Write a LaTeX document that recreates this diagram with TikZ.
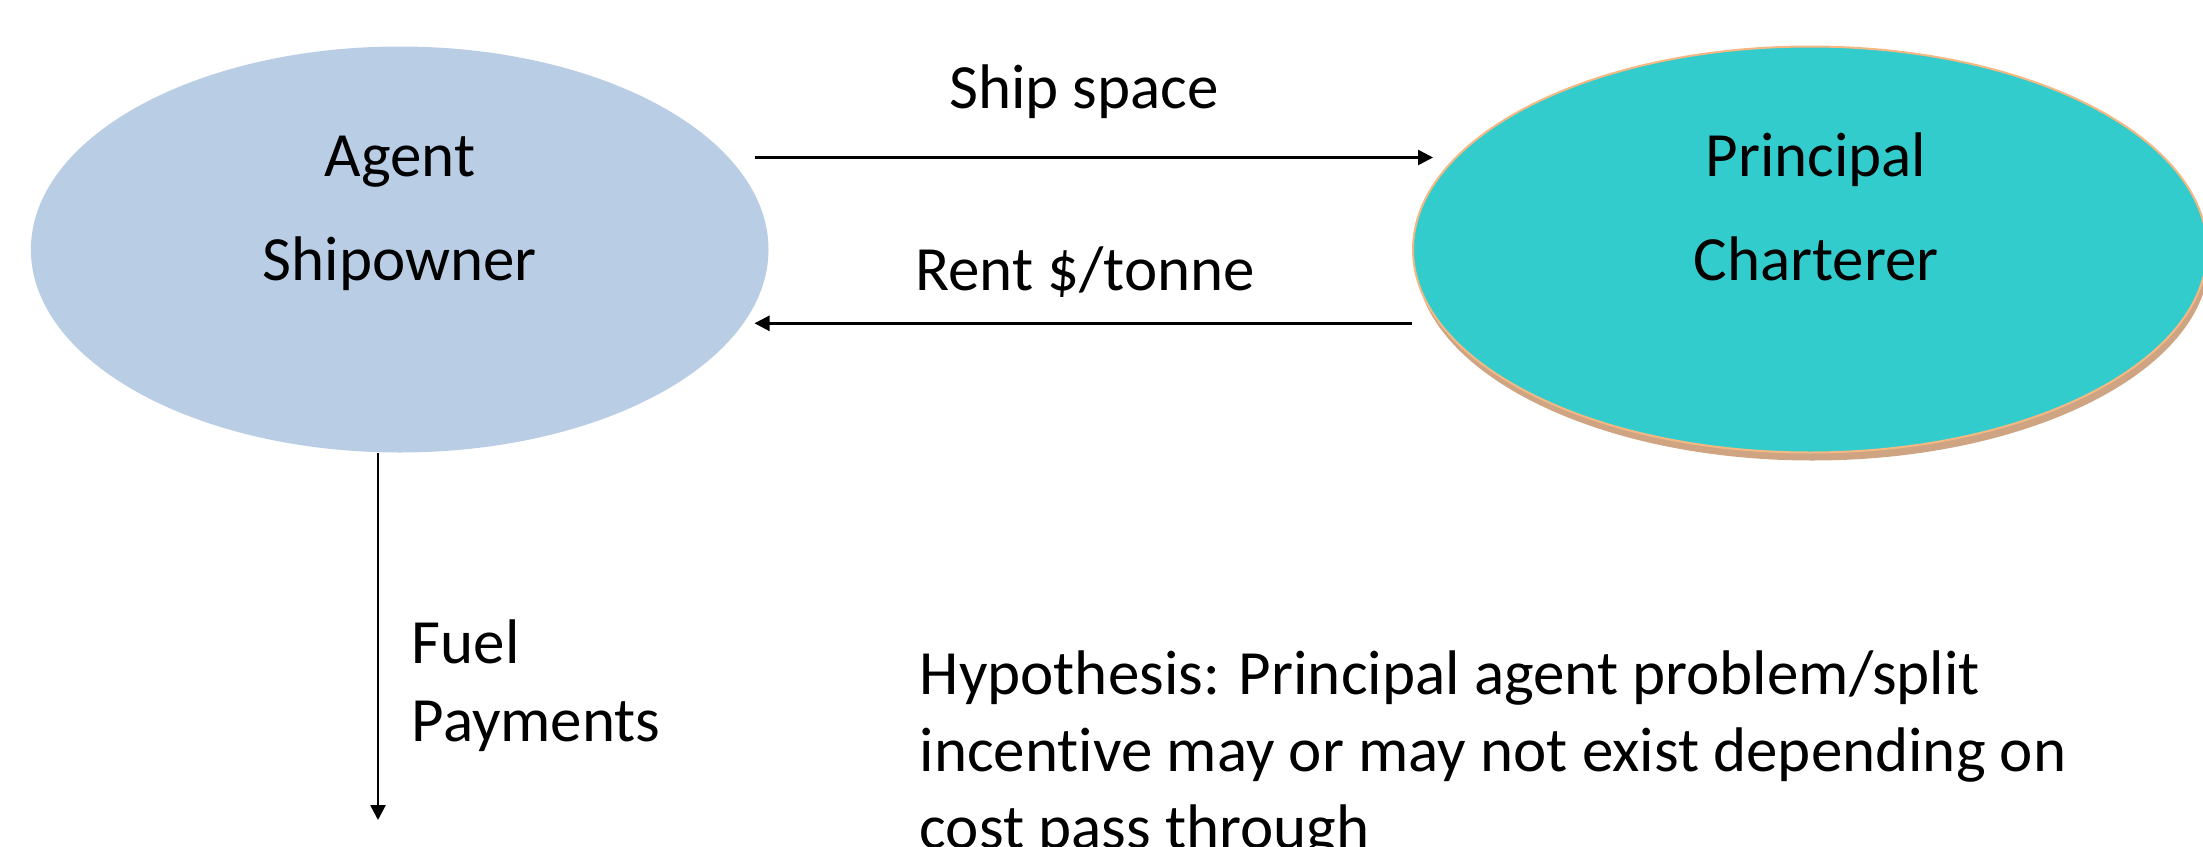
\documentclass[tikz,border=0pt]{standalone}
\usepackage{fontspec}
\setmainfont{Carlito}[Ligatures=NoCommon]
\usetikzlibrary{arrows.meta,shapes.geometric,shadows}

\definecolor{agentfill}{HTML}{B9CDE5}
\definecolor{princfill}{HTML}{33CCCC}
\definecolor{princline}{HTML}{F5B882}
\definecolor{princshadow}{HTML}{CFA482}

\pgfdeclarelayer{bg}
\pgfsetlayers{bg,main}

\begin{document}
\begin{tikzpicture}[x=0.25pt, y=-0.25pt,
  lbl/.style={font=\fontsize{15.75pt}{19.25pt}\selectfont, inner sep=0pt, anchor=base},
  lblw/.style={lbl, anchor=base west},
  flow/.style={line width=0.65pt, -{Triangle[length=3.75pt, width=3.75pt]}},
  oval/.style={ellipse, inner sep=0pt, minimum height=101.5pt}]
\useasboundingbox (0,0) rectangle (2203,846);
\clip (0,0) rectangle (2203,846);

% the two parties
\node[oval, fill=agentfill, minimum width=184.4pt] (agent) at (399.7,249.5) {};
\node[oval, fill=princfill, draw=princline, line width=0.5pt, minimum width=198.5pt,
      drop shadow={fill=princshadow, opacity=1, shadow xshift=0.6pt, shadow yshift=-2pt}]
      (princ) at (1810,249.5) {};

% names inside the ovals
\node[lbl] (agentA) at (400,176.7) {Agent};
\node[lbl] (agentB) at (400,280) {Shipowner};
\node[lbl] (princA) at (1816,176.7) {Principal};
\node[lbl] (princB) at (1816,280) {Charterer};

% flow labels
\node[lbl] (shiplbl) at (1084,108.3) {Ship space};
\node[lbl] (rentlbl) at (1085,290) {Rent \$/tonne};
\node[lblw] (fuelA) at (411,663) {Fuel};
\node[lblw] (fuelB) at (411,741.7) {Payments};

% hypothesis text
\node[lblw] (hypA) at (919,694) {Hypothesis: Principal agent problem/split};
\node[lblw] (hypB) at (919,771) {incentive may or may not exist depending on};
\node[lblw] (hypC) at (919,848) {cost pass through};

% connector end points
\coordinate (shipFrom) at (754.5,157.5);
\coordinate (shipTo)   at (1433,157.5);
\coordinate (rentTo)   at (754.5,323.3);
\coordinate (fuelTo)   at (378,820);

\begin{pgfonlayer}{bg}
  \draw[flow] (shipFrom) -- (shipTo);
  \draw[flow] (princ.west |- rentTo) -- (rentTo);
  \draw[flow] (agent.south -| fuelTo) -- (fuelTo);
\end{pgfonlayer}
\end{tikzpicture}
\end{document}
